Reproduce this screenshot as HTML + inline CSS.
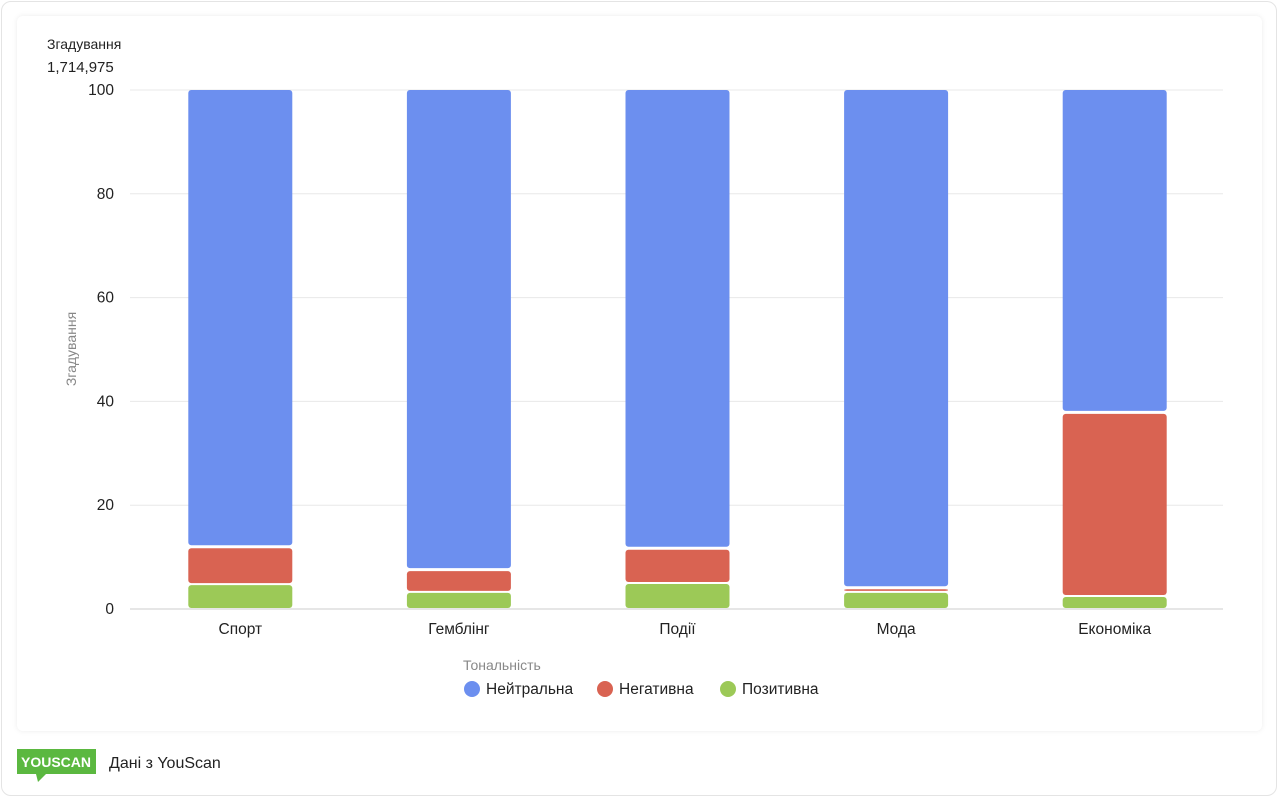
<!DOCTYPE html>
<html><head><meta charset="utf-8">
<style>
html,body{margin:0;padding:0;width:1280px;height:799px;background:#fff;font-family:"Liberation Sans",sans-serif;overflow:hidden}
.frame{position:absolute;left:1px;top:1px;width:1276px;height:795px;border:1px solid #e4e4e4;border-radius:10px;box-sizing:border-box}
.card{position:absolute;left:17px;top:16px;width:1245px;height:715px;background:#fff;box-shadow:0 0 6px rgba(0,0,0,0.08);border-radius:6px}
</style></head><body>
<div class="frame"></div>
<div class="card"></div>
<svg id="chart" width="1280" height="799" style="position:absolute;left:0;top:0">
<text x="47" y="49" font-size="14" fill="#222">Згадування</text>
<text x="47" y="72" font-size="15" fill="#222">1,714,975</text>
<text transform="translate(76,349) rotate(-90)" text-anchor="middle" font-size="14" fill="#888">Згадування</text>
<g id="grid"></g><g id="bars"></g><g id="xlabels"></g>
<text x="463" y="670" font-size="14" fill="#888">Тональність</text>
<g><circle cx="472" cy="689" r="8" fill="#6c8fef"/><text x="486" y="694" font-size="15.5" fill="#222">Нейтральна</text></g>
<g><circle cx="605" cy="689" r="8" fill="#d96352"/><text x="619" y="694" font-size="15.5" fill="#222">Негативна</text></g>
<g><circle cx="728" cy="689" r="8" fill="#9cc957"/><text x="742" y="694" font-size="15.5" fill="#222">Позитивна</text></g>
<g>
<rect x="17" y="749" width="79" height="25" fill="#5bb840"/>
<polygon points="36,774 46,774 38,782" fill="#5bb840"/>
<text x="56" y="767" text-anchor="middle" font-size="14" font-weight="bold" fill="#fff">YOUSCAN</text>
</g>
<text x="109" y="768" font-size="16" fill="#222">Дані з YouScan</text>
</svg>
<script>
const categories=["Спорт","Гемблінг","Події","Мода","Економіка"];
const positive=[4.8,3.3,5.0,3.3,2.5];
const negative=[7.1,4.2,6.6,0.7,35.3];
const yTicks=[0,20,40,60,80,100];
const NS="http://www.w3.org/2000/svg";
const L=130,R=1223,T=90,B=609;
const y=v=>B-(v/100)*(B-T);
const band=(R-L)/categories.length;
const xc=i=>L+band*(i+0.5)+1;
const BW=104;
function mk(tag,at,parent){const e=document.createElementNS(NS,tag);for(const k in at)e.setAttribute(k,at[k]);parent.appendChild(e);return e;}
const grid=document.getElementById('grid'),bars=document.getElementById('bars'),xl=document.getElementById('xlabels');
yTicks.forEach(t=>{
 const l=mk('line',{x1:L,x2:R,y1:y(t),y2:y(t),stroke:t===0?'#ccc':'#e8e8e8','stroke-width':1},grid);
 
 
 const tx=mk('text',{x:114,y:y(t)+5,'text-anchor':'end','font-size':15.5,fill:'#222'},grid);
 tx.textContent=t;
 
 
});
categories.forEach((c,i)=>{
 const segs=[[0,positive[i],'#9cc957','positive'],[positive[i],positive[i]+negative[i],'#d96352','negative'],[positive[i]+negative[i],100,'#6c8fef','neutral']];
 segs.forEach(s=>{
  const top=y(s[1]),bot=y(s[0]);
  const h=Math.max(bot-top-2,0.8);
  const r=mk('rect',{x:xc(i)-BW/2,y:top+(s[3]==='neutral'?0:1),width:BW,height:h,rx:3,fill:s[2]},bars);
  
  
 });
 const t=mk('text',{x:xc(i),y:634,'text-anchor':'middle','font-size':15.5,fill:'#222'},xl);
 t.textContent=c;
 
 
});
</script>
</body></html>
